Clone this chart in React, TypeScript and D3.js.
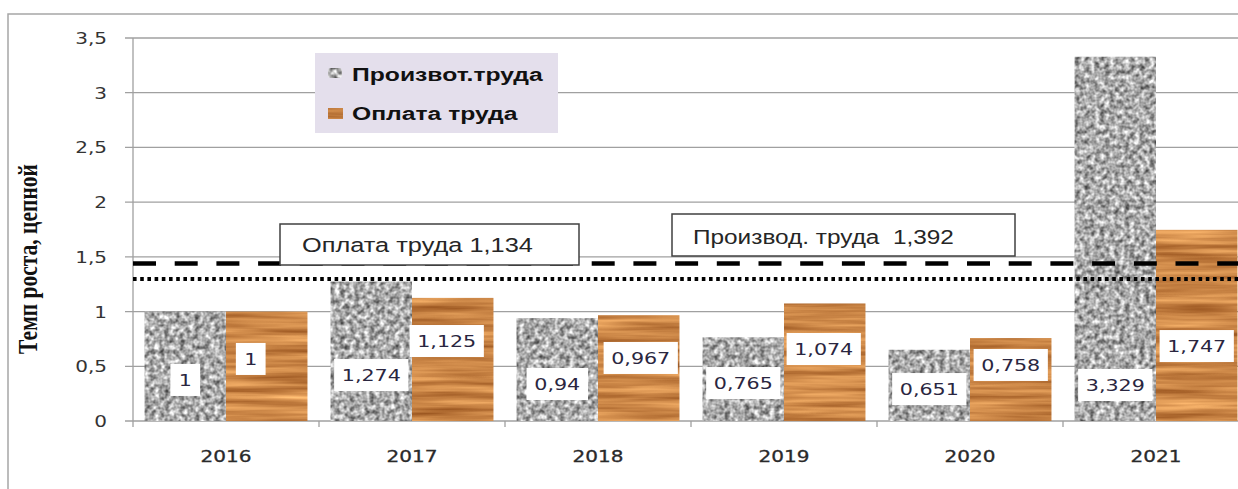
import React from "react";
import * as d3 from "d3";

const years = ["2016", "2017", "2018", "2019", "2020", "2021"];
const productivity = [1, 1.274, 0.94, 0.765, 0.651, 3.329];
const wages = [1, 1.125, 0.967, 1.074, 0.758, 1.747];
// where each value label sits, in axis units
const productivityLabelAt = [0.375, 0.42, 0.338, 0.347, 0.292, 0.329];
const wagesLabelAt = [0.567, 0.731, 0.576, 0.658, 0.512, 0.685];
const wagesLabelShift = [-16, -6, 2, -1, 0, 0];
const yTicks = [0, 0.5, 1, 1.5, 2, 2.5, 3, 3.5];
const dashedLevel = 1.44;
const dottedLevel = 1.298;
const seriesNames = ["Произвот.труда", "Оплата труда"];
const wagesNote = "Оплата труда 1,134";
const prodNote = "Производ. труда  1,392";
const yTitle = "Темп роста, цепной";

const W = 1238;
const H = 489;
const SX = 1.25;

const fmt = (v: number) => String(v).replace(".", ",");

function SText(props: any) {
  const { x, y, sx = SX, children, ...rest } = props;
  return (
    <text transform={`translate(${x},${y}) scale(${sx},1)`} {...rest}>
      {children}
    </text>
  );
}

function labelWidth(s: string) {
  let w = 0;
  for (const c of s) w += c === "," ? 0.318 : 0.636;
  return w * 16 * SX + 17;
}

export default function App() {
  const x = d3
    .scaleBand<string>()
    .domain(years)
    .range([133, 1249])
    .paddingInner(0.124)
    .paddingOuter(0.062);
  const y = d3.scaleLinear().domain([0, 3.5]).range([421, 38]);
  const bw = x.bandwidth() / 2;
  const step = x.step();
  const tickFont = "DejaVu Sans, Verdana, sans-serif";

  return (
    <svg width={W} height={H} style={{ display: "block", position: "absolute", left: 0, top: 0 }}>
      <defs>
        <filter id="granite" filterUnits="userSpaceOnUse" x={0} y={0} width={W} height={H} colorInterpolationFilters="sRGB">
          <feTurbulence type="fractalNoise" baseFrequency="0.2" numOctaves={2} seed={4} result="n" />
          <feColorMatrix
            in="n"
            type="matrix"
            values="1.1 0 0 0 0.12  1.1 0 0 0 0.12  1.1 0 0 0 0.12  0 0 0 0 1"
            result="g"
          />
          <feComposite in="g" in2="SourceGraphic" operator="in" />
        </filter>
        <filter id="wood" filterUnits="userSpaceOnUse" x={0} y={0} width={W} height={H} colorInterpolationFilters="sRGB">
          <feTurbulence type="fractalNoise" baseFrequency="0.008 0.16" numOctaves={3} seed={7} result="n" />
          <feColorMatrix
            in="n"
            type="matrix"
            values="0.5 0 0 0 0.55  0.5 0 0 0 0.28  0.4 0 0 0 0.08  0 0 0 0 1"
            result="g"
          />
          <feComposite in="g" in2="SourceGraphic" operator="in" />
        </filter>
      </defs>
      <rect x={0} y={0} width={W} height={H} fill="#fff" />
      {/* outer chart frame */}
      <path d={`M8,${H} V14 H${W}`} fill="none" stroke="#a6a6a6" strokeWidth={1.5} />

      {/* gridlines */}
      {yTicks.map((t) => (
        <line key={t} x1={125} x2={1249} y1={y(t)} y2={y(t)} stroke="#a0a0a0" strokeWidth={1.3} />
      ))}
      <line x1={133} x2={133} y1={y(3.5)} y2={y(0) + 6} stroke="#a0a0a0" strokeWidth={1.3} />
      {years.map((yr, i) => (
        <line key={yr} x1={133 + step * (i + 1)} x2={133 + step * (i + 1)} y1={y(0)} y2={y(0) + 6} stroke="#a0a0a0" strokeWidth={1.3} />
      ))}

      {/* y tick labels */}
      {yTicks.map((t) => (
        <SText key={t} x={107} y={y(t) + 6} textAnchor="end" fontFamily={tickFont} fontSize={16} fill="#333">
          {fmt(t)}
        </SText>
      ))}
      {/* x labels */}
      {years.map((yr) => (
        <SText key={yr} x={(x(yr) as number) + bw} y={462} textAnchor="middle" fontFamily={tickFont} fontSize={16} fill="#2a2a2a" stroke="#2a2a2a" strokeWidth={0.3}>
          {yr}
        </SText>
      ))}
      {/* y title */}
      <text
        transform={`translate(37,259) rotate(-90) scale(1,1.25)`}
        textAnchor="middle"
        fontFamily="Liberation Serif, Times New Roman, serif"
        fontWeight="bold"
        fontSize={21.5}
        fill="#111"
      >
        {yTitle}
      </text>

      {/* bars */}
      {years.map((yr, i) => (
        <g key={yr}>
          <rect x={x(yr)} y={y(productivity[i])} width={bw} height={y(0) - y(productivity[i])} fill="#999" filter="url(#granite)" />
          <rect x={(x(yr) as number) + bw} y={y(wages[i])} width={bw} height={y(0) - y(wages[i])} fill="#c80" filter="url(#wood)" />
        </g>
      ))}

      {/* average lines */}
      <line x1={133} x2={1249} y1={y(dottedLevel)} y2={y(dottedLevel)} stroke="#000" strokeWidth={4} strokeDasharray="3.6 3.6" />
      <line x1={133} x2={1249} y1={y(dashedLevel)} y2={y(dashedLevel)} stroke="#000" strokeWidth={4.5} strokeDasharray="23 18.7" />

      {/* notes */}
      <rect x={280} y={224} width={299} height={41} fill="#fff" stroke="#404040" strokeWidth={1.5} />
      <SText x={302} y={252} sx={1.3} fontFamily="Liberation Sans, Arial, sans-serif" fontSize={19.5} fill="#262626">
        {wagesNote}
      </SText>
      <rect x={672} y={214} width={343} height={42} fill="#fff" stroke="#404040" strokeWidth={1.5} />
      <SText x={693} y={244} fontFamily="Liberation Sans, Arial, sans-serif" fontSize={19.5} fill="#262626" style={{ whiteSpace: "pre" }}>
        {prodNote}
      </SText>

      {/* value labels */}
      {years.map((yr, i) => {
        const s1 = fmt(productivity[i]);
        const s2 = fmt(wages[i]);
        const w1 = labelWidth(s1);
        const w2 = labelWidth(s2);
        const cx1 = (x(yr) as number) + bw / 2;
        const cx2 = (x(yr) as number) + bw * 1.5 + wagesLabelShift[i];
        const cy1 = y(productivityLabelAt[i]);
        const cy2 = y(wagesLabelAt[i]);
        return (
          <g key={yr}>
            <rect x={cx1 - w1 / 2} y={cy1 - 16} width={w1} height={32} fill="#fff" />
            <SText x={cx1} y={cy1 + 6} textAnchor="middle" fontFamily={tickFont} fontSize={16.5} fill="#2a2640">
              {s1}
            </SText>
            <rect x={cx2 - w2 / 2} y={cy2 - 16} width={w2} height={32} fill="#fff" />
            <SText x={cx2} y={cy2 + 6} textAnchor="middle" fontFamily={tickFont} fontSize={16.5} fill="#2a2640">
              {s2}
            </SText>
          </g>
        );
      })}

      {/* legend */}
      <rect x={315} y={53} width={243} height={80} fill="#e4dfec" />
      <rect x={328} y={68} width={14} height={10} rx={3} fill="#999" filter="url(#granite)" />
      <rect x={328} y={108} width={15} height={11} fill="#c80" filter="url(#wood)" />
      <SText x={352} y={81} sx={1.3} fontFamily="Liberation Sans, Arial, sans-serif" fontWeight="bold" fontSize={19} fill="#111">
        {seriesNames[0]}
      </SText>
      <SText x={352} y={120} sx={1.3} fontFamily="Liberation Sans, Arial, sans-serif" fontWeight="bold" fontSize={19} fill="#111">
        {seriesNames[1]}
      </SText>
    </svg>
  );
}
